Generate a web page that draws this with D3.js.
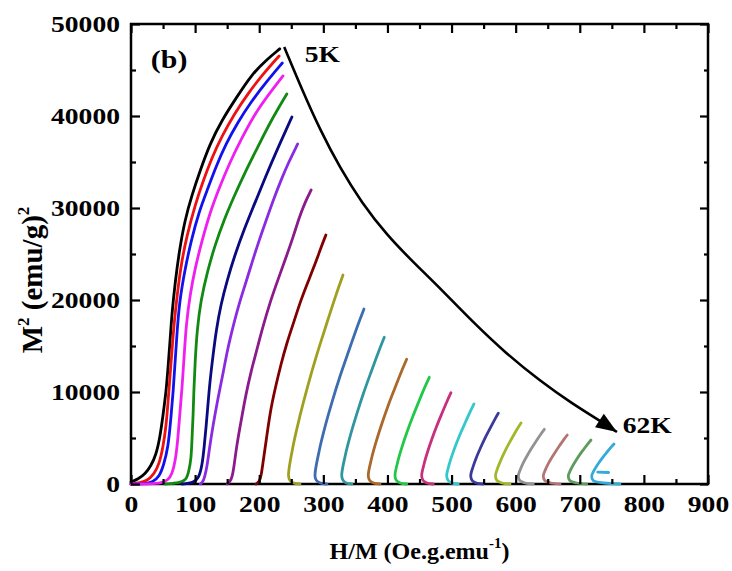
<!DOCTYPE html>
<html><head><meta charset="utf-8">
<script src="https://cdn.jsdelivr.net/npm/d3@7/dist/d3.min.js"></script>
<style>body{margin:0;background:#fff}</style>
</head><body><svg id="c" width="732" height="571"></svg>
<script>
// ---- data ----
const xTicks = [0,100,200,300,400,500,600,700,800,900];
const yTicks = [0,10000,20000,30000,40000,50000];
const xMinor = [50,150,250,350,450,550,650,750,850];
const yMinor = [5000,15000,25000,35000,45000];

const curve1 = [[0,220],[11,540],[22,1090],[31,1960],[39,3150],[45,5000],[50,7500],[55,10200],[58,12900],[61,15650],[64,18700],[69,21960],[75,25200],[84,28700],[95,31400],[108,34100],[123,36960],[142,39570],[164,41960],[189,44570],[211,46090],[232,47300]];
const curve2 = [[0,0],[14,110],[27,430],[36,1090],[44,2170],[50,4020],[55,6410],[58,9130],[61,11850],[64,14570],[67,17280],[72,20540],[78,23800],[87,26960],[100,30330],[112,32830],[126,35440],[142,37830],[161,40220],[183,42500],[206,44570],[231,46520]];
const curve3 = [[0,0],[22,0],[34,220],[44,760],[51,2070],[58,4020],[62,6960],[66,10220],[69,13480],[72,16740],[76,20000],[84,23260],[94,26520],[106,29570],[119,31960],[133,34570],[148,36960],[167,39350],[187,41520],[211,43700],[236,45760]];
const curve4 = [[0,0],[30,0],[48,110],[58,430],[64,1090],[69,2390],[73,4780],[76,7500],[80,10760],[83,14020],[86,17280],[92,20540],[100,23480],[111,26520],[123,29460],[137,32070],[153,34780],[172,37500],[192,40110],[214,42280],[237,44350]];
const curve5 = [[53,0],[76,110],[86,430],[90,1300],[94,2830],[95,4780],[97,7500],[98,10220],[100,13260],[103,16740],[109,20000],[119,23040],[131,25980],[145,28700],[161,31300],[178,33910],[197,36520],[218,39460],[243,42390]];
const curve6 = [[80,0],[97,110],[106,650],[111,2070],[114,3910],[117,6090],[120,8590],[123,11090],[128,14020],[133,16740],[140,19460],[150,22170],[162,24890],[176,27610],[192,30330],[209,33260],[229,36520],[251,39890]];
const curve7 = [[108,0],[112,220],[115,760],[119,2070],[122,3700],[128,6410],[136,9460],[144,12170],[151,14780],[159,17070],[168,19460],[178,21630],[189,24130],[200,26520],[211,28700],[222,30870],[234,33040],[246,35000],[260,36960]];
const curve8 = [[150,0],[154,220],[158,760],[161,2070],[165,4240],[172,6960],[179,9670],[187,12170],[197,14780],[206,17170],[217,19780],[229,22170],[242,24670],[253,26850],[262,28910],[271,30540],[281,31960]];
const curve9 = [[195,0],[200,220],[203,870],[206,2390],[211,4780],[217,7830],[225,10430],[234,13040],[243,15330],[254,17610],[265,20000],[276,21960],[289,24240],[296,25650],[304,27070]];
const curve10 = [[263.6,0],[253.8,109],[248.0,380],[245.7,870],[252.9,4147],[263.6,7424],[275.9,10702],[289.5,13979],[304.4,17256],[319.7,20533],[330.7,22718]];
const curve11 = [[305.7,0],[295.4,109],[289.3,380],[287.0,870],[293.5,3593],[303.0,6316],[314.1,9039],[326.3,11762],[339.7,14485],[353.5,17208],[363.4,19023]];
const curve12 = [[344.7,0],[335.9,109],[331.0,380],[328.7,870],[334.3,3131],[342.6,5393],[352.3,7654],[362.9,9916],[374.5,12177],[386.5,14438],[395.1,15946]];
const curve13 = [[388.4,0],[378.3,109],[372.4,380],[370.1,870],[375.2,2773],[382.7,4676],[391.4,6578],[400.9,8481],[411.4,10384],[422.2,12287],[430.0,13555]];
const curve14 = [[430.0,0],[420.0,109],[414.1,380],[411.8,870],[416.3,2479],[423.0,4088],[430.8,5698],[439.4,7307],[448.7,8916],[458.3,10525],[465.3,11598]];
const curve15 = [[471.5,0],[461.5,109],[455.7,380],[453.4,870],[457.3,2228],[463.0,3586],[469.6,4944],[476.9,6302],[484.9,7661],[493.2,9019],[499.1,9924]];
const curve16 = [[510.5,0],[500.5,109],[494.7,380],[492.4,870],[496.0,2044],[501.3,3218],[507.5,4392],[514.3,5566],[521.8,6740],[529.5,7913],[535.0,8696]];
const curve17 = [[549.5,0],[538.7,109],[532.2,380],[529.9,870],[533.6,1892],[538.9,2915],[545.2,3937],[552.0,4959],[559.6,5981],[567.3,7004],[572.9,7685]];
const curve18 = [[591.2,0],[578.7,109],[570.8,380],[568.5,870],[571.9,1734],[576.9,2598],[582.6,3462],[589.0,4327],[595.9,5191],[603.1,6055],[608.3,6631]];
const curve19 = [[627.5,0],[614.6,109],[606.4,380],[604.1,870],[607.6,1631],[612.6,2393],[618.5,3154],[625.0,3916],[632.1,4677],[639.4,5438],[644.7,5946]];
const curve20 = [[669.2,0],[654.8,109],[645.4,380],[643.1,870],[646.3,1538],[650.9,2207],[656.4,2875],[662.4,3544],[668.9,4212],[675.6,4880],[680.5,5326]];
const curve21 = [[710.8,0],[695.0,109],[684.4,380],[682.1,870],[685.1,1457],[689.5,2044],[694.7,2631],[700.3,3218],[706.5,3805],[712.9,4392],[717.5,4783]];
const curve22 = [[762.7,0],[738.4,109],[720.9,380],[718.6,870],[721.6,1392],[725.9,1913],[731.0,2435],[736.5,2957],[742.6,3479],[748.9,4000],[753.4,4348]];
const curve22b = [[728,1300],[745,1250]];

const curves = [curve1,curve2,curve3,curve4,curve5,curve6,curve7,curve8,curve9,curve10,curve11,
                curve12,curve13,curve14,curve15,curve16,curve17,curve18,curve19,curve20,curve21,curve22];
const colors = ["#000000","#ee1111","#1111ee","#f01ef0","#118a11","#0a0a80","#8a2be2","#8b1a8b","#800000",
                "#a0a020","#3d6db0","#2f96a0","#a8692a","#22c848","#c8307f","#33c8cc","#3a3a9a","#a2b82a",
                "#929292","#b47474","#5f9a5f","#33aad8"];

const arrowPts = [[239,47500],[267,42830],[295,38480],[326,34350],[360,30550],[399,27070],[440,24130],[482,21300],[533,17610],[586,14130],[638,11200],[689,8700],[727,7070],[758,5650]];
const labels = [{t:"(b)",x:31,y:45220,s:26},{t:"5K",x:271,y:45870,s:24},{t:"62K",x:767,y:5540,s:24}];

// ---- drawing ----
const svg = d3.select("#c");
const L=131, R=708, T=24, B=484;
const x = d3.scaleLinear().domain([0,900]).range([L,R]);
const y = d3.scaleLinear().domain([0,50000]).range([B,T]);
const font = "'Liberation Serif','Times New Roman',serif";
const SX = 1.15;

svg.append("rect").attr("width",732).attr("height",571).attr("fill","#fff");

// frame
svg.append("rect").attr("x",L).attr("y",T).attr("width",R-L).attr("height",B-T)
  .attr("fill","none").attr("stroke","#000").attr("stroke-width",2.5);

// curves
const lineSmooth = d3.line().x(d=>x(d[0])).y(d=>y(d[1])).curve(d3.curveBasis);
const line = d3.line().x(d=>x(d[0])).y(d=>y(d[1])).curve(d3.curveCatmullRom.alpha(0.5));
curves.forEach((c,i)=>{
  svg.append("path").attr("d",(i<9?lineSmooth:line)(c)).attr("fill","none").attr("stroke",colors[i])
    .attr("stroke-width",2.8).attr("stroke-linecap","round").attr("stroke-linejoin","round");
});
svg.append("path").attr("d",line(curve22b)).attr("fill","none").attr("stroke",colors[21])
  .attr("stroke-width",2.8).attr("stroke-linecap","round");

// axes
function styleAxis(g){
  g.select(".domain").remove();
  g.selectAll(".tick line").attr("stroke","#000").attr("stroke-width",2.2);
  g.selectAll("text").attr("font-family",font).attr("font-weight","bold").attr("font-size",24).attr("fill","#000");
}
function stretch(g){
  g.selectAll(".tick text").each(function(){
    const t=d3.select(this);
    const tx=+t.attr("x")||0, ty=+t.attr("y")||0;
    t.attr("transform",`translate(${tx},${ty}) scale(${SX},1) translate(${-tx},${-ty})`);
  });
}
svg.append("g").attr("transform",`translate(0,${B})`)
  .call(d3.axisBottom(x).tickValues(xTicks).tickSize(-9).tickPadding(11).tickFormat(d3.format("d"))).call(styleAxis).call(stretch);
svg.append("g").attr("transform",`translate(0,${B})`)
  .call(d3.axisBottom(x).tickValues(xMinor).tickSize(-5).tickFormat("")).call(styleAxis);
svg.append("g").attr("transform",`translate(0,${T})`)
  .call(d3.axisTop(x).tickValues(xTicks).tickSize(-9).tickFormat("")).call(styleAxis);
svg.append("g").attr("transform",`translate(0,${T})`)
  .call(d3.axisTop(x).tickValues(xMinor).tickSize(-5).tickFormat("")).call(styleAxis);
svg.append("g").attr("transform",`translate(${L},0)`)
  .call(d3.axisLeft(y).tickValues(yTicks).tickSize(-9).tickPadding(11).tickFormat(d3.format("d"))).call(styleAxis).call(stretch);
svg.append("g").attr("transform",`translate(${L},0)`)
  .call(d3.axisLeft(y).tickValues(yMinor).tickSize(-5).tickFormat("")).call(styleAxis);
svg.append("g").attr("transform",`translate(${R},0)`)
  .call(d3.axisRight(y).tickValues(yTicks).tickSize(-8).tickFormat("")).call(styleAxis);
svg.append("g").attr("transform",`translate(${R},0)`)
  .call(d3.axisRight(y).tickValues(yMinor).tickSize(-4).tickFormat("")).call(styleAxis);

// arrow
svg.append("path").attr("d",lineSmooth(arrowPts)).attr("fill","none").attr("stroke","#000").attr("stroke-width",2.6);
{
  const p1 = arrowPts[arrowPts.length-2], p2 = arrowPts[arrowPts.length-1];
  const ax=x(p1[0]), ay=y(p1[1]), bx=x(p2[0]), by=y(p2[1]);
  const a=Math.atan2(by-ay,bx-ax), len=21, hw=8;
  const bx0=bx-len*Math.cos(a), by0=by-len*Math.sin(a);
  const pts=[[bx,by],[bx0+hw*Math.sin(a),by0-hw*Math.cos(a)],[bx0-hw*Math.sin(a),by0+hw*Math.cos(a)]];
  svg.append("polygon").attr("points",pts.map(p=>p.join(",")).join(" ")).attr("fill","#000");
}

// annotations
labels.forEach(l=>{
  svg.append("text").attr("transform",`translate(${x(l.x)},${y(l.y)}) scale(${SX},1)`).text(l.t)
    .attr("font-family",font).attr("font-weight","bold").attr("font-size",l.s).attr("fill","#000");
});

// axis titles
const xt = svg.append("text").attr("x",(L+R)/2).attr("y",559).attr("text-anchor","middle")
  .attr("font-family",font).attr("font-weight","bold").attr("font-size",24).attr("fill","#000");
xt.append("tspan").text("H/M (Oe.g.emu");
xt.append("tspan").text("-1").attr("font-size",15).attr("dy",-11);
xt.append("tspan").text(")").attr("dy",11);

const yt = svg.append("text").attr("transform","translate(42,280) rotate(-90)").attr("text-anchor","middle")
  .attr("font-family",font).attr("font-weight","bold").attr("font-size",29).attr("fill","#000");
yt.append("tspan").text("M");
yt.append("tspan").text("2").attr("font-size",17).attr("dy",-13);
yt.append("tspan").text(" (emu/g)").attr("dy",13);
yt.append("tspan").text("2").attr("font-size",17).attr("dy",-13);
</script>
</body></html>
